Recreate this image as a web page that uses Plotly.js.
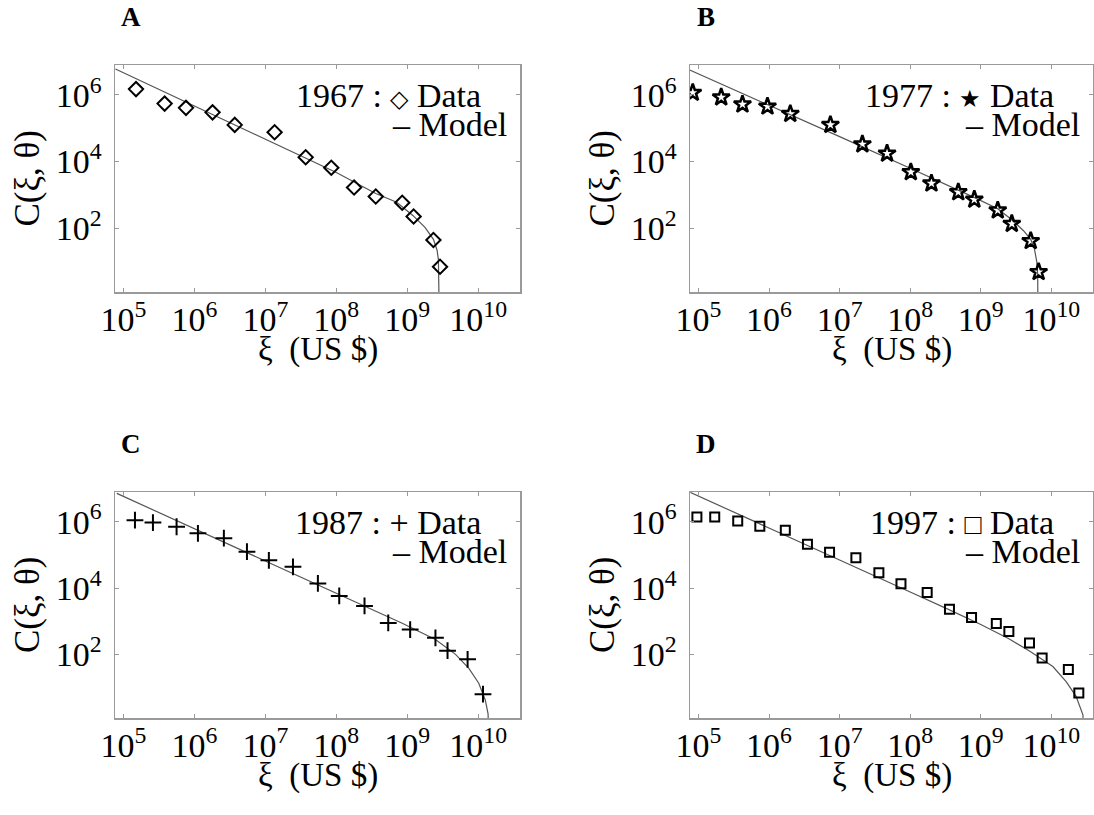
<!DOCTYPE html>
<html><head><meta charset="utf-8">
<script src="https://cdn.plot.ly/plotly-3.0.1.min.js"></script>
<style>html,body{margin:0;padding:0;background:#fff}</style>
</head><body><div id="chart" style="width:1094px;height:815px"></div>
<script>
// ---- data ----
const panelLabels = ['A', 'B', 'C', 'D'];
const years = ['1967', '1977', '1987', '1997'];
const legendSymbols = ['◇', '★', '+', '□'];
const xTickVals = [1e5, 1e6, 1e7, 1e8, 1e9, 1e10];
const xTickText = ['10<sup>5</sup>', '10<sup>6</sup>', '10<sup>7</sup>', '10<sup>8</sup>', '10<sup>9</sup>', '10<sup>10</sup>'];
const yTickVals = [1e2, 1e4, 1e6];
const yTickText = ['10<sup>2</sup>', '10<sup>4</sup>', '10<sup>6</sup>'];
const xTitle = 'ξ  (US $)';
const yTitle = 'C(ξ, θ)';

const xi1967 = [1.5e5, 3.8e5, 7.6e5, 1.8e6, 3.7e6, 1.35e7, 3.7e7, 8.5e7, 1.78e8, 3.6e8, 8.5e8, 1.23e9, 2.34e9, 2.9e9];
const c1967  = [1.5e6, 5.5e5, 4.1e5, 3.0e5, 1.26e5, 7.6e4, 1.35e4, 6.5e3, 1.66e3, 890, 575, 224, 44, 6.9];
const modelXi1967 = [7.7e4, 1e6, 1e7, 1e8, 3.6e8, 7.1e8, 1.2e9, 1.78e9, 2.34e9, 2.63e9, 2.75e9, 2.82e9, 2.85e9];
const modelC1967  = [6.0e6, 4.7e5, 4.7e4, 4.7e3, 1.1e3, 600, 240, 105, 46, 22, 11.5, 3.2, 0.1];

const xi1977 = [8.3e4, 2.1e5, 4.2e5, 9.5e5, 2.0e6, 7.4e6, 2.1e7, 4.7e7, 1.02e8, 2.0e8, 4.8e8, 8.1e8, 1.74e9, 2.75e9, 5.1e9, 6.6e9];
const c1977  = [1.17e6, 8.5e5, 5.2e5, 4.5e5, 2.7e5, 1.26e5, 3.3e4, 1.74e4, 4.8e3, 2.2e3, 1.2e3, 720, 340, 135, 41, 4.8];
const modelXi1977 = [7.5e4, 1e6, 1e7, 1e8, 3.16e8, 7.9e8, 1.74e9, 2.75e9, 4.0e9, 5.1e9, 5.75e9, 6.2e9, 6.4e9, 6.5e9];
const modelC1977  = [5.6e6, 5.0e5, 5.6e4, 6.3e3, 2.1e3, 850, 380, 178, 85, 46, 24, 10, 4, 0.1];

const xi1987 = [1.45e5, 2.6e5, 5.6e5, 1.12e6, 2.6e6, 5.5e6, 1.12e7, 2.45e7, 5.5e7, 1.1e8, 2.5e8, 5.4e8, 1.1e9, 2.5e9, 3.7e9, 7.1e9, 1.17e10];
const c1987  = [1.12e6, 9.5e5, 7.1e5, 4.5e5, 3.2e5, 1.26e5, 6.9e4, 4.4e4, 1.38e4, 5.8e3, 2.9e3, 890, 560, 316, 129, 71, 6.3];
const modelXi1987 = [8.05e4, 1e6, 1e7, 1e8, 8.5e8, 2.5e9, 4.8e9, 7.4e9, 1.02e10, 1.26e10, 1.38e10, 1.43e10];
const modelC1987  = [7.2e6, 6.2e5, 6.5e4, 6.8e3, 870, 280, 100, 38, 13.5, 4.2, 1.6, 0.1];

const xi1997 = [9.5e4, 1.7e5, 3.6e5, 7.4e5, 1.7e6, 3.5e6, 7.2e6, 1.7e7, 3.6e7, 7.4e7, 1.74e8, 3.6e8, 7.4e8, 1.66e9, 2.5e9, 4.9e9, 7.4e9, 1.74e10, 2.45e10];
const c1997  = [1.41e6, 1.41e6, 1.05e6, 7.4e5, 5.6e5, 2.1e5, 1.2e5, 8.3e4, 2.9e4, 1.35e4, 7.4e3, 2.3e3, 1.29e3, 850, 490, 220, 78, 35, 6.8];
const modelXi1997 = [7.7e4, 1e6, 1e7, 1e8, 3.6e8, 1e9, 2.5e9, 4.9e9, 1.05e10, 1.62e10, 2.24e10, 2.8e10, 2.95e10];
const modelC1997  = [7.7e6, 6.6e5, 6.9e4, 7.6e3, 2.2e3, 800, 295, 126, 43, 15, 5.4, 1.5, 0.1];

// ---- presentation ----
const W = 1094, H = 815;
const boxes = [ // plot area in pixels: left, right, top, bottom
  [115, 520, 65, 292],
  [690, 1093, 65, 292],
  [115, 520, 492, 718],
  [690, 1093, 492, 718]
];
const markerStyles = [
  {symbol: 'diamond-open', size: 11, color: '#000', line: {width: 2, color: '#000'}},
  {symbol: 'star-open', size: 13, color: '#000', line: {width: 2.5, color: '#000'}},
  {symbol: 'cross-thin-open', size: 12, color: '#000', line: {width: 2, color: '#000'}},
  {symbol: 'square-open', size: 9, color: '#000', line: {width: 2, color: '#000'}}
];
const symbolSizes = [24, 24, 34, 28];
const dataX = [xi1967, xi1977, xi1987, xi1997];
const dataY = [c1967, c1977, c1987, c1997];
const modelX = [modelXi1967, modelXi1977, modelXi1987, modelXi1997];
const modelY = [modelC1967, modelC1977, modelC1987, modelC1997];

const px = x => x / W;
const py = y => 1 - y / H;
const FONT = 'Liberation Serif, Times New Roman, serif';

const traces = [];
const layout = {
  width: W, height: H,
  margin: {l: 0, r: 0, t: 0, b: 0},
  paper_bgcolor: '#fff', plot_bgcolor: '#fff',
  showlegend: false,
  font: {family: FONT, color: '#000', size: 30},
  annotations: []
};

for (let i = 0; i < 4; i++) {
  const s = i === 0 ? '' : String(i + 1);
  const b = boxes[i];
  traces.push({
    x: modelX[i], y: modelY[i], xaxis: 'x' + s, yaxis: 'y' + s,
    type: 'scatter', mode: 'lines', line: {color: '#555', width: 1.2}, hoverinfo: 'skip'
  });
  traces.push({
    x: dataX[i], y: dataY[i], xaxis: 'x' + s, yaxis: 'y' + s,
    type: 'scatter', mode: 'markers', marker: markerStyles[i]
  });
  const axCommon = {
    type: 'log', showgrid: false, zeroline: false,
    showline: true, linecolor: '#9a9a9a', linewidth: 1.5, mirror: 'ticks',
    ticks: 'inside', ticklen: 4, tickcolor: '#9a9a9a', tickwidth: 1,
    tickfont: {family: FONT, size: 34, color: '#000'}
  };
  layout['xaxis' + s] = Object.assign({}, axCommon, {
    domain: [px(b[0]), px(b[1])], anchor: 'y' + s,
    range: [4.88, 10.59], tickmode: 'array', tickvals: xTickVals, ticktext: xTickText,
    ticklabelstandoff: -3
  });
  layout['yaxis' + s] = Object.assign({}, axCommon, {
    domain: [py(b[3]), py(b[2])], anchor: 'x' + s,
    range: [0.08, 6.9], tickmode: 'array', tickvals: yTickVals, ticktext: yTickText,
    ticklabelstandoff: 5
  });
  // panel letter
  layout.annotations.push({
    text: '<b>' + panelLabels[i] + '</b>', xref: 'paper', yref: 'paper',
    x: px(b[0] + 16), y: py(b[2] - 48), xanchor: 'center', yanchor: 'middle',
    showarrow: false, font: {family: FONT, size: 27, color: '#000'}
  });
  // x title
  layout.annotations.push({
    text: xTitle, xref: 'paper', yref: 'paper',
    x: px((b[0] + b[1]) / 2), y: py(b[3] + 57), xanchor: 'center', yanchor: 'middle',
    showarrow: false, font: {family: FONT, size: 33, color: '#000'}
  });
  // y title
  layout.annotations.push({
    text: yTitle, xref: 'paper', yref: 'paper', textangle: -90,
    x: px(b[0] - 88), y: py((b[2] + b[3]) / 2), xanchor: 'center', yanchor: 'middle',
    showarrow: false, font: {family: FONT, size: 35, color: '#000'}
  });
  // legend text
  layout.annotations.push({
    text: years[i] + ' : <span style="font-size:' + symbolSizes[i] + 'px">' + legendSymbols[i] + '</span> Data',
    xref: 'paper', yref: 'paper',
    x: px(b[1] - 37), y: py(b[2] + 30), xanchor: 'right', yanchor: 'middle',
    showarrow: false, font: {family: FONT, size: 34, color: '#000'}
  });
  layout.annotations.push({
    text: '– Model', xref: 'paper', yref: 'paper',
    x: px(b[1] - 11), y: py(b[2] + 59), xanchor: 'right', yanchor: 'middle',
    showarrow: false, font: {family: FONT, size: 34, color: '#000'}
  });
}

Plotly.newPlot('chart', traces, layout, {displayModeBar: false, staticPlot: true});
</script>
</body></html>
